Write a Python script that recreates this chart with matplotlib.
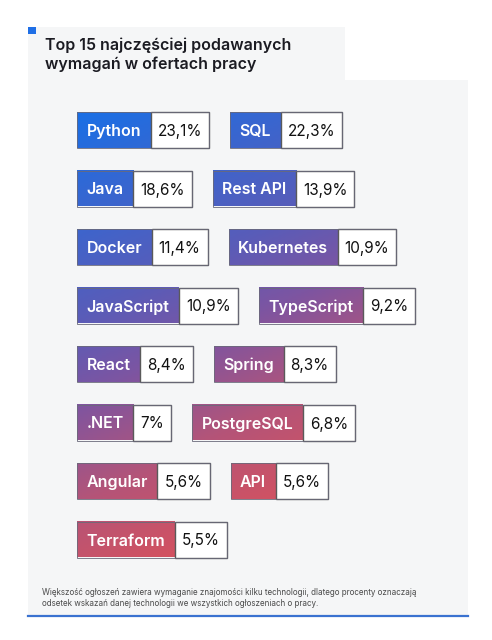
import matplotlib
matplotlib.use('Agg')
import matplotlib.pyplot as plt
import matplotlib.patches as mplpatches
from matplotlib.colors import LinearSegmentedColormap
import numpy as np

# data
techs = ['Python', 'SQL', 'Java', 'Rest API', 'Docker', 'Kubernetes',
         'JavaScript', 'TypeScript', 'React', 'Spring', '.NET', 'PostgreSQL',
         'Angular', 'API', 'Terraform']
shares = [23.1, 22.3, 18.6, 13.9, 11.4, 10.9, 10.9, 9.2, 8.4, 8.3, 7.0, 6.8,
          5.6, 5.6, 5.5]
title = 'Top 15 najczęściej podawanych\nwymagań w ofertach pracy'
note = ('Większość ogłoszeń zawiera wymaganie znajomości kilku technologii, dlatego procenty oznaczają\n'
        'odsetek wskazań danej technologii we wszystkich ogłoszeniach o pracy.')

# layout (pixels)
W, H = 492, 640
rowTop = 112
rowStep = 58.5
boxH = 36
leftX = 77
gap = 21
padLabel = 9.5
padValue = 7

fontMain = ['Inter', 'DejaVu Sans']

grad = LinearSegmentedColormap.from_list(
    'grad', [(0.0, '#1a6fe5'), (0.4, '#5a5cb8'), (0.55, '#7c55a2'),
             (0.75, '#b45478'), (1.0, '#dc525a')])


def gradT(x, y):
    return np.clip(0.85 * (y - 112) / 446 + 0.3 * (x - 77) / 320, 0, 1)


def fmt(v):
    s = ('%.1f' % v).rstrip('0').rstrip('.')
    return s.replace('.', ',') + '%'


fig = plt.figure(figsize=(W / 100, H / 100), dpi=100)
ax = fig.add_axes([0, 0, 1, 1])
ax.set_xlim(0, W)
ax.set_ylim(H, 0)
ax.axis('off')
fig.patch.set_facecolor('white')

# background panels
ax.add_patch(mplpatches.Rectangle((28, 27), 317, 54, color='#f5f6f7', lw=0, zorder=0))
ax.add_patch(mplpatches.Rectangle((28, 80), 440, 536, color='#f5f6f7', lw=0, zorder=0))
ax.add_patch(mplpatches.Rectangle((28, 27), 8, 7, color='#1f6fe6', lw=0, zorder=1))
ax.plot([28, 468], [616, 616], color='#3a72d0', lw=1.6, zorder=1)

ax.text(45, 55, title, fontsize=11.5, fontweight='semibold', family=fontMain,
        color='#1b1b22', va='center', ha='left', linespacing=1.25)
ax.text(42, 598, note, fontsize=5.8, family=fontMain, color='#4a4a4a',
        va='center', ha='left', linespacing=1.15)

renderer = fig.canvas.get_renderer()


def textWidth(t):
    bb = t.get_window_extent(renderer=renderer)
    return bb.width


for i, (name, val) in enumerate(zip(techs, shares)):
    row = i // 2
    y0 = rowTop + row * rowStep
    yc = y0 + boxH / 2
    if i % 2 == 0:
        x0 = leftX
    else:
        x0 = prevEnd + gap
    lab = ax.text(x0 + padLabel, yc, name, fontsize=11.5, fontweight='semibold',
                  family=fontMain, color='white', va='center_baseline', ha='left', zorder=4)
    lw_ = textWidth(lab)
    x1 = x0 + lw_ + 2 * padLabel
    xs = np.linspace(x0, x1, 60)
    ys = np.linspace(y0, y0 + boxH, 10)
    XX, YY = np.meshgrid(xs, ys)
    ax.imshow(gradT(XX, YY), cmap=grad, vmin=0, vmax=1, extent=[x0, x1, y0 + boxH, y0],
              aspect='auto', interpolation='bilinear', zorder=2)
    vt = ax.text(x1 + padValue, yc, fmt(val), fontsize=11, family=fontMain,
                 color='#111111', va='center_baseline', ha='left', zorder=4)
    vw = textWidth(vt)
    x2 = x1 + vw + 2 * padValue
    ax.add_patch(mplpatches.Rectangle((x1, y0), x2 - x1, boxH, facecolor='white',
                                      edgecolor='#5a5a5a', lw=1.0, zorder=3))
    ax.add_patch(mplpatches.Rectangle((x0, y0), x2 - x0, boxH, facecolor='none',
                                      edgecolor='#6a6a7a', lw=0.6, zorder=3))
    prevEnd = x2

ax.set_xlim(0, W)
ax.set_ylim(H, 0)
fig.savefig('out.png', dpi=100, facecolor='white')
